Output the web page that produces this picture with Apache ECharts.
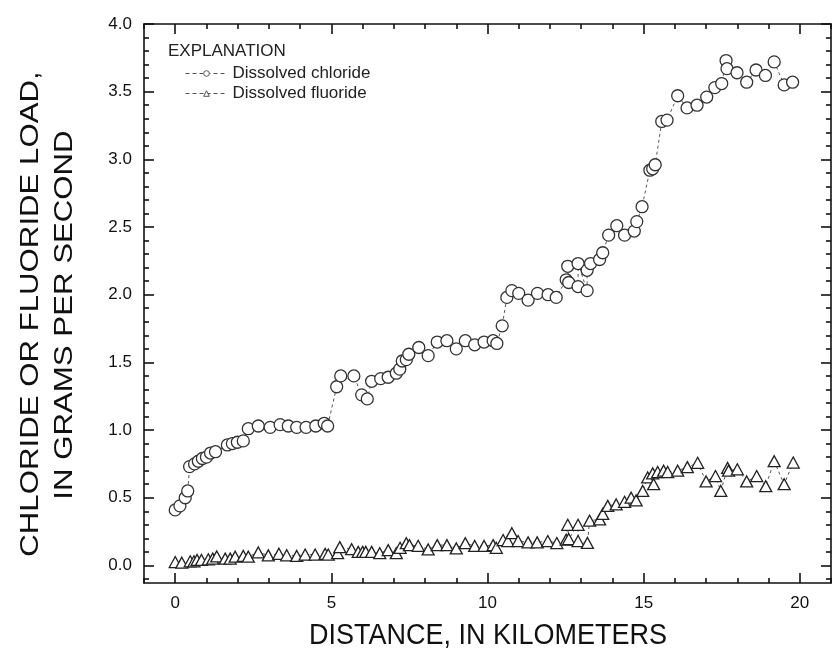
<!DOCTYPE html>
<html>
<head>
<meta charset="utf-8">
<title>Chloride and fluoride load</title>
<script src="https://cdn.jsdelivr.net/npm/echarts@6/dist/echarts.min.js"></script>
<style>
  html, body { margin: 0; padding: 0; background: #fff; }
  #chart { width: 833px; height: 665px; }
</style>
</head>
<body>
<div id="chart"></div>
<script>
// Distance downstream (km) and dissolved loads (g/s)
const chlorideKm = [
  0.0, 0.15, 0.32, 0.40, 0.46, 0.62, 0.74, 0.87, 1.00, 1.13, 1.29, 1.67, 1.83, 1.99, 2.18,
  2.34, 2.66, 3.04, 3.36, 3.62, 3.89, 4.19, 4.50, 4.77, 4.88, 5.17, 5.30, 5.72, 5.97, 6.15,
  6.29, 6.58, 6.82, 7.08, 7.19, 7.27, 7.40, 7.48, 7.80, 8.10, 8.39, 8.70, 9.00, 9.29, 9.59,
  9.89, 10.18, 10.30, 10.47, 10.62, 10.78, 11.00, 11.30, 11.60, 11.94, 12.20, 12.52, 12.57,
  12.60, 12.90, 12.90, 13.19, 13.19, 13.30, 13.59, 13.69, 13.88, 14.14, 14.39, 14.70, 14.78,
  14.95, 15.20, 15.29, 15.37, 15.58, 15.75, 16.09, 16.39, 16.71, 17.02, 17.28, 17.50, 17.64,
  17.67, 17.99, 18.30, 18.60, 18.90, 19.18, 19.50, 19.77
];
const chlorideLoad = [
  0.41, 0.44, 0.50, 0.55, 0.73, 0.75, 0.77, 0.79, 0.80, 0.83, 0.84, 0.89, 0.90, 0.91, 0.92,
  1.01, 1.03, 1.02, 1.04, 1.03, 1.02, 1.02, 1.03, 1.05, 1.03, 1.32, 1.40, 1.40, 1.26, 1.23,
  1.36, 1.38, 1.39, 1.42, 1.45, 1.51, 1.52, 1.56, 1.61, 1.55, 1.65, 1.66, 1.60, 1.66, 1.63,
  1.65, 1.66, 1.64, 1.77, 1.98, 2.03, 2.01, 1.96, 2.01, 2.00, 1.98, 2.11, 2.21,
  2.09, 2.06, 2.23, 2.03, 2.18, 2.23, 2.26, 2.31, 2.44, 2.51, 2.44, 2.47, 2.54,
  2.65, 2.92, 2.93, 2.96, 3.28, 3.29, 3.47, 3.38, 3.40, 3.46, 3.53, 3.56, 3.73,
  3.67, 3.64, 3.57, 3.66, 3.62, 3.72, 3.55, 3.57
];

const fluorideKm = [
  0.0, 0.21, 0.48, 0.60, 0.70, 0.84, 1.06, 1.20, 1.33, 1.60, 1.76, 1.92, 2.18, 2.34, 2.66,
  2.98, 3.32, 3.57, 3.89, 4.16, 4.48, 4.80, 4.90, 5.20, 5.27, 5.65, 5.86, 6.00, 6.10, 6.29,
  6.55, 6.82, 7.08, 7.20, 7.40, 7.50, 7.78, 8.10, 8.39, 8.70, 9.00, 9.29, 9.59, 9.89, 10.18,
  10.28, 10.50, 10.65, 10.78, 10.98, 11.30, 11.59, 11.93, 12.22, 12.52, 12.57, 12.60, 12.90,
  12.90, 13.20, 13.27, 13.59, 13.69, 13.85, 14.12, 14.39, 14.60, 14.76, 14.97, 15.13, 15.29,
  15.32, 15.45, 15.64, 15.77, 16.09, 16.40, 16.73, 17.00, 17.30, 17.47, 17.69, 17.72, 18.00,
  18.30, 18.62, 18.91, 19.18, 19.50, 19.79
];
const fluorideLoad = [
  0.025, 0.02, 0.03, 0.03, 0.04, 0.04, 0.045, 0.05, 0.066, 0.05, 0.05, 0.064, 0.07, 0.064, 0.096,
  0.074, 0.086, 0.075, 0.07, 0.08, 0.08, 0.085, 0.08, 0.09, 0.135, 0.12, 0.10, 0.10, 0.10, 0.10,
  0.09, 0.113, 0.09, 0.13, 0.164, 0.15, 0.145, 0.118, 0.15, 0.15, 0.126, 0.164, 0.144, 0.144, 0.15,
  0.13, 0.187, 0.18, 0.238, 0.18, 0.17, 0.17, 0.18, 0.165, 0.19, 0.30, 0.195, 0.30,
  0.18, 0.166, 0.33, 0.34, 0.38, 0.44, 0.45, 0.47, 0.50, 0.48, 0.55, 0.65, 0.68,
  0.60, 0.69, 0.70, 0.69, 0.70, 0.726, 0.758, 0.62, 0.66, 0.55, 0.72, 0.70, 0.71,
  0.62, 0.66, 0.585, 0.77, 0.60, 0.76
];

// Axis tick labels
const xTickLabels = [0, 5, 10, 15, 20];
const yTickLabels = [0.0, 0.5, 1.0, 1.5, 2.0, 2.5, 3.0, 3.5, 4.0];

const zip = (xs, ys) => xs.map((x, i) => [x, ys[i]]);

// Minor tick positions between the labelled ones
const xMinor = [];
for (let k = -1; k <= 21; k++) if (k % 5 !== 0) xMinor.push(k);
const yMinor = [];
for (let k = -1; k <= 40; k++) if (k % 5 !== 0) yMinor.push(+(k / 10).toFixed(1));

const FONT = '"Liberation Sans", Arial, sans-serif';
const INK = '#111';

const X_MIN = -1, X_MAX = 21, Y_MIN = -0.13, Y_MAX = 4.0;

function xAxisDef(position, major, showLabels) {
  return {
    type: 'value', position, min: X_MIN, max: X_MAX,
    splitLine: { show: false },
    axisLine: { show: major, onZero: false, lineStyle: { color: INK, width: 1.6 } },
    axisTick: {
      show: true, inside: true, length: major ? 10 : 5,
      customValues: major ? xTickLabels : xMinor,
      lineStyle: { color: INK, width: 1.6 }
    },
    axisLabel: showLabels ? {
      show: true, customValues: xTickLabels, margin: 12,
      fontFamily: FONT, fontSize: 17, color: INK
    } : { show: false }
  };
}

function yAxisDef(position, major, showLabels) {
  return {
    type: 'value', position, min: Y_MIN, max: Y_MAX,
    splitLine: { show: false },
    axisLine: { show: major, onZero: false, lineStyle: { color: INK, width: 1.6 } },
    axisTick: {
      show: true, inside: true, length: major ? 10 : 5,
      customValues: major ? yTickLabels : yMinor,
      lineStyle: { color: INK, width: 1.6 }
    },
    axisLabel: showLabels ? {
      show: true, customValues: yTickLabels, margin: 12,
      formatter: v => v.toFixed(1),
      fontFamily: FONT, fontSize: 17, color: INK
    } : { show: false }
  };
}

const chart = echarts.init(document.getElementById('chart'), null, { renderer: 'canvas' });

chart.setOption({
  animation: false,
  backgroundColor: '#fff',
  grid: { left: 144, right: 2, top: 24, bottom: 82, containLabel: false },
  title: {
    text: 'EXPLANATION', left: 168, top: 43, padding: 0,
    textStyle: { fontFamily: FONT, fontSize: 17, fontWeight: 'normal', color: '#222' }
  },
  legend: {
    orient: 'vertical', left: 185, top: 65, padding: 0,
    itemWidth: 42, itemHeight: 7, itemGap: 3,
    itemStyle: { borderWidth: 0.9, borderColor: '#444', color: '#fff' },
    lineStyle: { color: '#555', width: 1, type: [4, 3] },
    textStyle: { fontFamily: FONT, fontSize: 17, color: '#222', lineHeight: 17 },
    data: ['Dissolved chloride', 'Dissolved fluoride']
  },
  xAxis: [
    xAxisDef('bottom', true, true),
    xAxisDef('bottom', false, false),
    xAxisDef('top', true, false),
    xAxisDef('top', false, false)
  ],
  yAxis: [
    yAxisDef('left', true, true),
    yAxisDef('left', false, false),
    yAxisDef('right', true, false),
    yAxisDef('right', false, false)
  ],
  graphic: [
    {
      type: 'text', x: 488, y: 636, scaleY: 1.12,
      style: {
        text: 'DISTANCE, IN KILOMETERS', align: 'center', verticalAlign: 'middle',
        fontFamily: FONT, fontSize: 27, fill: INK
      }
    },
    {
      type: 'text', x: 31, y: 314, rotation: Math.PI / 2, scaleX: 1.2,
      style: {
        text: 'CHLORIDE OR FLUORIDE LOAD,', align: 'center', verticalAlign: 'middle',
        fontFamily: FONT, fontSize: 26, fill: INK
      }
    },
    {
      type: 'text', x: 65, y: 315, rotation: Math.PI / 2, scaleX: 1.2,
      style: {
        text: 'IN GRAMS PER SECOND', align: 'center', verticalAlign: 'middle',
        fontFamily: FONT, fontSize: 26, fill: INK
      }
    }
  ],
  series: [
    {
      name: 'Dissolved chloride', type: 'line',
      xAxisIndex: 0, yAxisIndex: 0,
      data: zip(chlorideKm, chlorideLoad),
      symbol: 'circle', symbolSize: 12, showAllSymbol: true,
      itemStyle: { color: '#fff', borderColor: '#333', borderWidth: 1.3 },
      lineStyle: { color: '#555', width: 1, type: [3, 3] }
    },
    {
      name: 'Dissolved fluoride', type: 'line',
      xAxisIndex: 0, yAxisIndex: 0,
      data: zip(fluorideKm, fluorideLoad),
      symbol: 'triangle', symbolSize: [12, 11], showAllSymbol: true,
      itemStyle: { color: '#fff', borderColor: '#222', borderWidth: 1.3 },
      lineStyle: { color: '#555', width: 1, type: [3, 3] }
    }
  ]
});
</script>
</body>
</html>
